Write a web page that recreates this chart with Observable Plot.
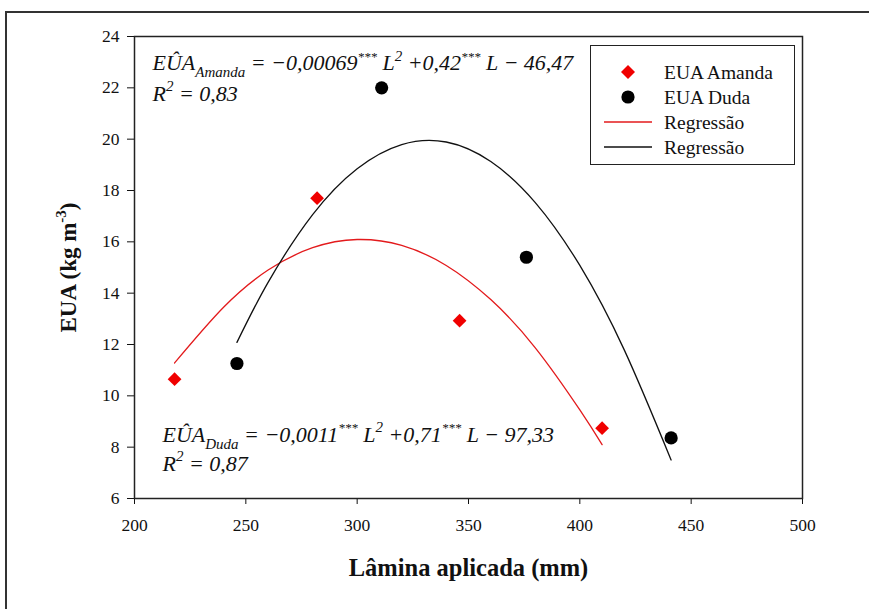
<!DOCTYPE html>
<html>
<head>
<meta charset="utf-8">
<script src="https://cdn.jsdelivr.net/npm/d3@7"></script>
<script src="https://cdn.jsdelivr.net/npm/@observablehq/plot@0.6"></script>
<style>
  html, body { margin: 0; padding: 0; background: #fff; }
  #wrap { position: relative; width: 869px; height: 609px; overflow: hidden; font-family: "Liberation Serif", serif; }
  #outer { position: absolute; left: 5px; top: 11px; width: 900px; height: 700px; border-left: 2px solid #333; border-top: 2px solid #333; }
  #chart { position: absolute; left: 0; top: 0; }
  #chart svg, #chart svg text { font-family: "Liberation Serif", serif !important; }
  #legend { position: absolute; left: 590px; top: 45px; width: 203px; height: 118px; border: 1.5px solid #222; background: #fff; }
</style>
</head>
<body>
<div id="wrap">
  <div id="outer"></div>
  <div id="chart"></div>
  <div id="legend"></div>
</div>
<script>
// ---- data ----
const amandaL = [218, 282, 346, 410];
const amandaEUA = [10.65, 17.7, 12.93, 8.74];
const dudaL = [246, 311, 376, 441];
const dudaEUA = [11.26, 22.0, 15.4, 8.36];

const fitAmandaL = [218, 240, 260, 280, 300, 320, 340, 360, 380, 400, 410];
const fitAmandaEUA = [11.28, 13.45, 14.9, 15.77, 16.09, 15.86, 15.08, 13.75, 11.87, 9.45, 8.1];
const fitDudaL = [246, 260, 280, 300, 320, 340, 360, 380, 400, 420, 441];
const fitDudaEUA = [12.08, 14.42, 17.06, 18.85, 19.79, 19.89, 19.13, 17.53, 15.08, 11.78, 7.5];

const xTicks = [200, 250, 300, 350, 400, 450, 500];
const yTicks = [6, 8, 10, 12, 14, 16, 18, 20, 22, 24];

const legendLabels = ["EUA Amanda", "EUA Duda", "Regressão", "Regressão"];
const xLabel = "Lâmina aplicada (mm)";
const yLabelSegs = [{t: "EUA (kg m"}, {t: "-3", sup: true}, {t: ")"}];

const eqAmanda = [
  {t: "EÛA"}, {t: "Amanda", sub: true}, {t: " = −0,00069"}, {t: "***", sup: true},
  {t: " L"}, {t: "2", sup: true}, {t: " +0,42"}, {t: "***", sup: true}, {t: " L − 46,47"}
];
const r2Amanda = [{t: "R"}, {t: "2", sup: true}, {t: " = 0,83"}];
const eqDuda = [
  {t: "EÛA"}, {t: "Duda", sub: true}, {t: " = −0,0011"}, {t: "***", sup: true},
  {t: " L"}, {t: "2", sup: true}, {t: " +0,71"}, {t: "***", sup: true}, {t: " L − 97,33"}
];
const r2Duda = [{t: "R"}, {t: "2", sup: true}, {t: " = 0,87"}];

// ---- build tables ----
const amanda = amandaL.map((l, i) => ({L: l, EUA: amandaEUA[i]}));
const duda = dudaL.map((l, i) => ({L: l, EUA: dudaEUA[i]}));
const fitAmanda = fitAmandaL.map((l, i) => ({L: l, EUA: fitAmandaEUA[i]}));
const fitDuda = fitDudaL.map((l, i) => ({L: l, EUA: fitDudaEUA[i]}));
const plain = segs => segs.map(s => s.t).join("");

const FONT = "Liberation Serif";
const eqFont = 22;
const labFont = 23;
const txt = {textAnchor: "start", lineAnchor: "middle", fontStyle: "italic", fontSize: eqFont, fontFamily: FONT, fill: "#111"};
const plot = Plot.plot({
  width: 869,
  height: 609,
  marginLeft: 134,
  marginRight: 67,
  marginTop: 36,
  marginBottom: 111,
  style: {fontFamily: FONT, fontSize: "17px", color: "#111", background: "transparent"},
  x: {domain: [200, 500]},
  y: {domain: [6, 24]},
  marks: [
    Plot.axisX({ticks: xTicks, tickSize: 6, tickPadding: 14, label: null, fontSize: 17.5, fontFamily: FONT}),
    Plot.axisY({ticks: yTicks, tickSize: 7, tickPadding: 8, label: null, fontSize: 17.5, fontFamily: FONT}),
    Plot.frame({stroke: "#222", strokeWidth: 1.5}),
    Plot.line(fitAmanda, {x: "L", y: "EUA", stroke: "#e31a1c", strokeWidth: 1.3, curve: "natural"}),
    Plot.line(fitDuda, {x: "L", y: "EUA", stroke: "#111", strokeWidth: 1.3, curve: "natural"}),
    Plot.dot(amanda, {x: "L", y: "EUA", symbol: "diamond2", r: 6.2, fill: "#f00000", stroke: "none"}),
    Plot.dot(duda, {x: "L", y: "EUA", symbol: "circle", r: 6.6, fill: "#000", stroke: "none"}),
    Plot.text([plain(eqAmanda)], {...txt, text: d => d, frameAnchor: "top-left", dx: 18, dy: 26.5}),
    Plot.text([plain(r2Amanda)], {...txt, text: d => d, frameAnchor: "top-left", dx: 18, dy: 57}),
    Plot.text([plain(eqDuda)], {...txt, text: d => d, frameAnchor: "bottom-left", dx: 28, dy: -64}),
    Plot.text([plain(r2Duda)], {...txt, text: d => d, frameAnchor: "bottom-left", dx: 28, dy: -35}),
    Plot.text([xLabel], {text: d => d, frameAnchor: "bottom", textAnchor: "middle", lineAnchor: "middle", dy: 70, fontWeight: "bold", fontSize: 24.5, fontFamily: FONT, fill: "#111"}),
    Plot.text([plain(yLabelSegs)], {text: d => d, frameAnchor: "left", textAnchor: "middle", lineAnchor: "middle", dx: -66, rotate: -90, fontWeight: "bold", fontSize: labFont, fontFamily: FONT, fill: "#111"})
  ]
});
plot.setAttribute("font-family", FONT);
plot.style.fontFamily = "'Liberation Serif', serif";
document.getElementById("chart").appendChild(plot);

// rich text (sub/superscripts) on the text elements Plot produced
const NS = "http://www.w3.org/2000/svg";
function richen(segs, size) {
  const target = plain(segs);
  d3.select(plot).selectAll("text").filter(function () { return this.textContent === target; }).each(function () {
    const el = this;
    el.textContent = "";
    let shift = 0;
    for (const s of segs) {
      const ts = document.createElementNS(NS, "tspan");
      const want = s.sup ? -size * 0.42 : s.sub ? size * 0.32 : 0;
      ts.setAttribute("dy", want - shift);
      shift = want;
      if (s.sup || s.sub) ts.setAttribute("font-size", Math.round(size * (s.t === "***" ? 0.6 : 0.66)));
      ts.textContent = s.t;
      el.appendChild(ts);
    }
  });
}
richen(eqAmanda, eqFont);
richen(r2Amanda, eqFont);
richen(eqDuda, eqFont);
richen(r2Duda, eqFont);
richen(yLabelSegs, labFont);

// legend
const lg = d3.select("#legend").append("svg").attr("width", 203).attr("height", 118)
  .style("font-family", "'Liberation Serif', serif").style("font-size", "19.5px");
const rows = [26, 51, 76, 101];
legendLabels.forEach((lab, i) => {
  const y = rows[i];
  if (i === 0) lg.append("path").attr("d", d3.symbol(d3.symbolDiamond2, Math.pow(7 / 0.62625, 2))()).attr("transform", `translate(37,${y})`).attr("fill", "#f00000");
  if (i === 1) lg.append("circle").attr("cx", 37).attr("cy", y).attr("r", 6.6).attr("fill", "#000");
  if (i === 2) lg.append("line").attr("x1", 13).attr("x2", 61).attr("y1", y).attr("y2", y).attr("stroke", "#e31a1c").attr("stroke-width", 1.3);
  if (i === 3) lg.append("line").attr("x1", 13).attr("x2", 61).attr("y1", y).attr("y2", y).attr("stroke", "#111").attr("stroke-width", 1.3);
  lg.append("text").attr("x", 73).attr("y", y).attr("dy", "0.35em").attr("fill", "#111").text(lab);
});
</script>
</body>
</html>
